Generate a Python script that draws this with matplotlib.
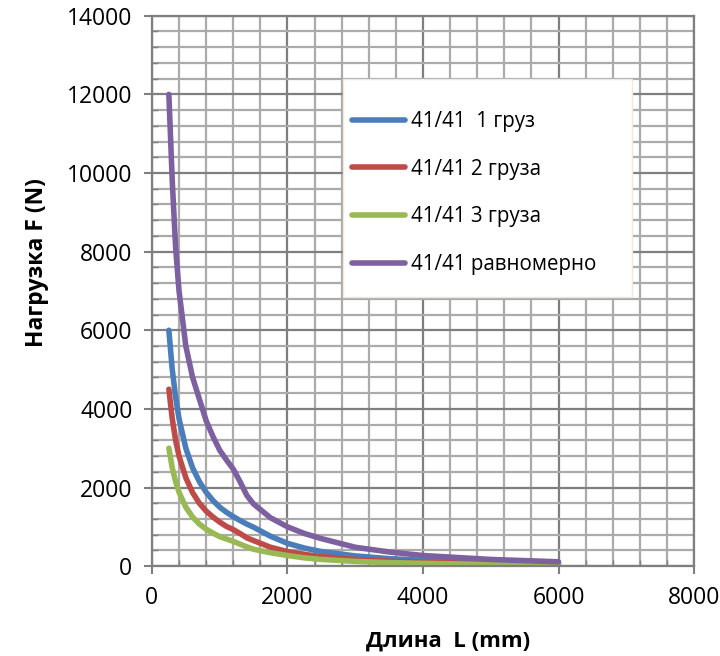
import matplotlib
matplotlib.use("Agg")
import matplotlib.pyplot as plt
from matplotlib.patches import Rectangle
from matplotlib.ticker import MultipleLocator

plt.rcParams['font.family'] = ['Open Sans', 'DejaVu Sans']

# length L (mm)
length = [250, 300, 350, 400, 500, 600, 700, 800, 900, 1000, 1100, 1200, 1300,
          1400, 1500, 1750, 2000, 2250, 2500, 3000, 3500, 4000, 5000, 6000]

# load F (N)
one_load = [6000, 5000, 4300, 3750, 3000, 2500, 2150, 1880, 1670, 1500, 1370,
            1260, 1160, 1070, 990, 760, 580, 460, 370, 260, 190, 150, 100, 70]
two_loads = [4500, 3750, 3200, 2800, 2250, 1870, 1600, 1400, 1250, 1120, 1010,
             930, 830, 720, 650, 480, 370, 300, 240, 170, 125, 95, 65, 45]
three_loads = [3000, 2500, 2150, 1880, 1500, 1250, 1070, 940, 840, 750, 690,
               630, 560, 490, 430, 340, 270, 210, 170, 120, 90, 70, 45, 30]
uniform = [12000, 9800, 8100, 7000, 5600, 4800, 4250, 3700, 3300, 2950, 2700,
           2470, 2150, 1800, 1580, 1230, 1000, 830, 700, 480, 360, 270, 170, 110]

labels = ["41/41  1 груз", "41/41 2 груза", "41/41 3 груза", "41/41 равномерно"]
colors = ["#4A7EBB", "#BE4B48", "#98B954", "#7D60A0"]

fig = plt.figure(figsize=(7.2, 6.56), dpi=100)
ax = fig.add_axes([0.211, 0.137, 0.753, 0.839])

for ys, lab, c in zip([one_load, two_loads, three_loads, uniform], labels, colors):
    ax.plot(length, ys, color=c, lw=4.0, label=lab, solid_capstyle='round',
            solid_joinstyle='round')

ax.set_xlim(0, 8000)
ax.set_ylim(0, 14000)
ax.xaxis.set_major_locator(MultipleLocator(2000))
ax.yaxis.set_major_locator(MultipleLocator(2000))
ax.xaxis.set_minor_locator(MultipleLocator(400))
ax.yaxis.set_minor_locator(MultipleLocator(400))

ax.grid(which='minor', color='#ABABAB', lw=1.6)
ax.grid(which='major', color='#7F7F7F', lw=1.6)
ax.set_axisbelow(True)

for s in ax.spines.values():
    s.set_color('#7F7F7F')
    s.set_linewidth(1.6)

ax.tick_params(which='major', direction='out', length=6, width=1.5,
               color='#7F7F7F', labelsize=16.5, pad=8)
ax.tick_params(which='minor', direction='in', length=4, width=1.0,
               color='#7F7F7F')

ax.set_xlabel("Длина  L (mm)", fontsize=16, fontweight='bold')
ax.set_ylabel("Нагрузка F (N)", fontsize=16.5, fontweight='bold')
ax.xaxis.set_label_coords(0.546, -0.118)
ax.yaxis.set_label_coords(-0.19, 0.551)

# white legend box
box = Rectangle((0.352, 0.489), 0.534, 0.396, transform=ax.transAxes,
                facecolor='white', edgecolor='#EEE8E0', lw=1.0, zorder=4)
ax.add_patch(box)

leg = ax.legend(loc='upper left', bbox_to_anchor=(0.369, 0.827), fontsize=14.8,
                frameon=False, handlelength=2.6, handletextpad=0.25,
                labelspacing=1.3, borderpad=0, borderaxespad=0)
leg.set_zorder(5)

fig.savefig("out.png", dpi=100)
